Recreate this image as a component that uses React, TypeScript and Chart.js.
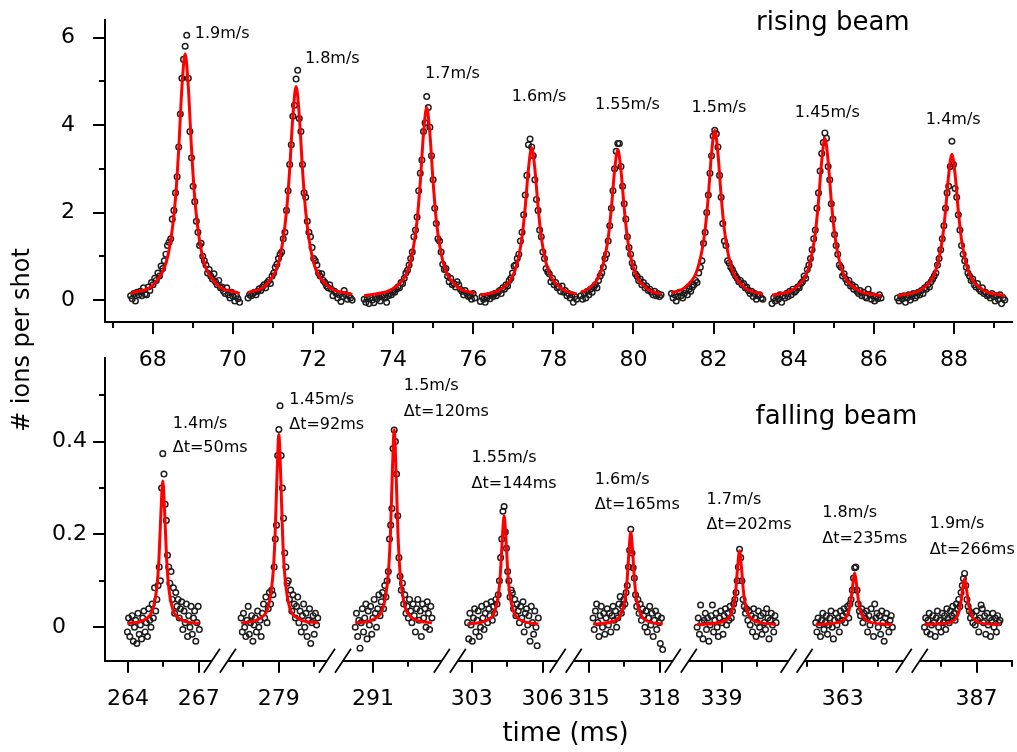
import React, { useEffect, useRef } from 'react';
import { Chart, registerables } from 'chart.js';

Chart.register(...registerables);

const W = 1017;
const H = 752;
const FAMILY = '"DejaVu Sans", "Liberation Sans", Arial, sans-serif';
const INK = '#000000';
const MARKER = '#1c1c1c';
const FIT_RED = '#ff0000';

// ---------------- rising beam (upper panel), time in ms ----------------
const risingStep = 0.04;
const risingStart = [67.45, 70.38, 73.28, 76.18, 78.69, 80.95, 83.46, 86.59];
const rise1 = [0.10,0.03,0.15,-0.02,0.18,0.12,0.20,0.10,0.28,0.14,0.12,0.30,0.22,0.40,0.35,0.50,0.45,0.62,0.55,0.78,0.72,0.90,1.05,1.25,1.32,1.40,1.85,2.05,2.45,2.82,3.50,4.25,5.07,5.50,5.80,6.05,5.07,3.85,3.25,2.60,2.25,1.80,1.55,1.25,1.30,1.00,0.90,0.80,0.62,0.70,0.55,0.48,0.60,0.42,0.35,0.45,0.28,0.30,0.20,0.15,0.28,0.12,0.05,0.18,0.08,-0.02,0.10,0.03,-0.05];
const rise2 = [0.05,0.12,0.10,0.15,0.18,0.12,0.20,0.26,0.22,0.30,0.35,0.28,0.40,0.45,0.38,0.55,0.62,0.75,0.82,0.95,1.05,1.10,1.40,1.55,2.05,2.50,3.10,3.55,4.20,4.45,5.05,5.25,4.15,3.85,3.10,2.45,2.35,1.80,1.55,1.45,1.20,0.95,0.90,0.80,0.62,0.55,0.60,0.45,0.40,0.32,0.28,0.35,0.25,0.10,0.20,0.15,0.05,0.12,-0.03,0.08,0.22,0.12,0.02,0.10,0.05,0.00];
const rise3 = [0.02,-0.05,0.05,-0.08,0.06,0.00,-0.06,0.08,0.03,0.10,-0.02,0.07,0.12,0.05,-0.05,0.10,0.15,0.12,0.20,0.18,0.25,0.30,0.28,0.40,0.38,0.50,0.62,0.68,0.80,0.95,1.10,1.45,1.60,1.90,2.50,2.90,3.20,3.85,4.05,4.65,4.40,3.95,3.30,2.75,2.10,1.75,1.40,1.35,1.10,0.82,0.70,0.72,0.55,0.42,0.50,0.35,0.38,0.30,0.42,0.35,0.25,0.20,0.12,0.22,0.15,0.08,0.10,0.02,0.15,0.05];
const rise4 = [-0.03,0.08,0.02,-0.05,0.05,0.10,0.03,0.12,0.08,0.15,0.10,0.18,0.22,0.15,0.28,0.25,0.35,0.32,0.45,0.50,0.62,0.78,0.80,0.95,1.05,1.35,1.55,1.95,2.40,2.85,3.55,3.68,3.50,3.30,2.75,2.30,2.05,1.60,1.45,1.10,0.95,0.72,0.65,0.60,0.42,0.50,0.35,0.40,0.28,0.30,0.20,0.32,0.18,0.22,0.10,0.15,0.05,0.12,-0.05,0.08,0.02];
const rise5 = [0.10,0.02,0.15,0.05,0.20,0.12,0.25,0.18,0.30,0.35,0.28,0.45,0.55,0.62,0.75,0.95,1.05,1.35,1.70,2.10,2.50,3.00,3.40,3.58,3.58,3.05,2.60,2.20,1.85,1.45,1.20,1.05,0.85,0.75,0.60,0.55,0.45,0.48,0.35,0.40,0.28,0.32,0.22,0.25,0.18,0.12,0.20,0.10,0.15,0.08,0.12];
const rise6 = [0.15,0.05,0.12,-0.02,0.08,0.18,0.10,0.05,0.15,0.22,0.12,0.25,0.20,0.30,0.35,0.45,0.40,0.62,0.75,0.90,1.30,1.55,2.00,2.40,2.90,3.30,3.75,3.88,3.80,3.50,2.85,2.35,1.75,1.35,1.25,0.90,0.85,0.75,0.70,0.62,0.55,0.50,0.42,0.45,0.35,0.38,0.28,0.30,0.22,0.15,0.20,0.08,0.15,0.02,0.10,0.12,0.05,0.02];
const rise7 = [-0.08,0.05,-0.02,0.08,0.02,0.12,-0.05,0.10,0.05,0.15,0.08,0.20,0.12,0.25,0.18,0.22,0.30,0.28,0.38,0.42,0.55,0.50,0.70,0.80,0.95,1.15,1.40,1.60,2.10,2.45,2.95,3.35,3.60,3.82,3.70,3.05,2.75,2.20,1.85,1.50,1.25,1.05,0.80,0.75,0.55,0.60,0.48,0.40,0.45,0.32,0.35,0.25,0.30,0.20,0.15,0.22,0.10,0.18,0.08,0.05,0.25,0.12,0.02,0.10,-0.02,0.08,0.03,0.12,0.05];
const rise8 = [0.05,-0.02,0.08,0.03,0.10,-0.05,0.05,0.12,0.00,0.08,0.15,0.05,0.10,0.18,0.12,0.22,0.15,0.28,0.25,0.35,0.30,0.42,0.48,0.55,0.62,0.80,0.95,1.15,1.40,1.70,2.10,2.45,2.60,3.05,3.63,3.10,2.55,2.35,1.95,1.60,1.25,1.05,0.90,0.75,0.62,0.55,0.45,0.48,0.35,0.30,0.38,0.25,0.20,0.28,0.15,0.18,0.10,0.12,0.05,0.15,0.08,-0.02,0.10,0.02,0.12,-0.08,0.05,0.00];
const risingSeries = [rise1, rise2, rise3, rise4, rise5, rise6, rise7, rise8];

// fitted curves: peak centres, end offsets and the curve read at the shared offsets
const risingCenters = [68.81, 71.58, 74.84, 77.46, 79.61, 82.03, 84.78, 87.95];
const risingFitEnds = [[-1.36, 1.36], [-1.20, 1.40], [-1.56, 1.20], [-1.28, 1.12], [-0.92, 1.08], [-1.08, 1.20], [-1.32, 1.40], [-1.36, 1.32]];
const fitOffsets = [-0.72, -0.4, -0.24, -0.16, -0.08, 0, 0.08, 0.16, 0.24, 0.4, 0.72];
const riseFit1 = [0.15,0.43,1.15,2.33,3.45,4.86,5.63,4.86,3.45,2.33,1.15,0.43,0.15];
const riseFit2 = [0.17,0.38,1.00,2.02,2.99,4.21,4.88,4.21,2.99,2.02,1.00,0.38,0.13];
const riseFit3 = [0.10,0.34,0.90,1.82,2.70,3.80,4.40,3.80,2.70,1.82,0.90,0.34,0.15];
const riseFit4 = [0.11,0.28,0.72,1.44,2.13,3.00,3.48,3.00,2.13,1.44,0.72,0.28,0.14];
const riseFit5 = [0.18,0.27,0.71,1.42,2.10,2.96,3.43,2.96,2.10,1.42,0.71,0.27,0.14];
const riseFit6 = [0.16,0.31,0.80,1.61,2.38,3.35,3.88,3.35,2.38,1.61,0.80,0.31,0.13];
const riseFit7 = [0.11,0.29,0.76,1.53,2.26,3.18,3.69,3.18,2.26,1.53,0.76,0.29,0.10];
const riseFit8 = [0.10,0.27,0.69,1.38,2.04,2.87,3.33,2.87,2.04,1.38,0.69,0.27,0.10];
const risingFits = [riseFit1, riseFit2, riseFit3, riseFit4, riseFit5, riseFit6, riseFit7, riseFit8];

const risingXMajor = [68, 70, 72, 74, 76, 78, 80, 82, 84, 86, 88];
const risingXMinor = [67, 69, 71, 73, 75, 77, 79, 81, 83, 85, 87, 89];
const risingYMajor = [0, 2, 4, 6];
const risingYMinor = [1, 3, 5];

const risingLabels = ['1.9m/s', '1.8m/s', '1.7m/s', '1.6m/s', '1.55m/s', '1.5m/s', '1.45m/s', '1.4m/s'];
const risingLabelX = [69.05, 71.80, 74.80, 76.96, 79.04, 81.45, 84.03, 87.30];
const risingLabelY = [6.09, 5.51, 5.17, 4.65, 4.46, 4.39, 4.27, 4.12];

// ---------------- falling beam (lower panel, broken time axis) ----------------
const fallingStep = 0.05;
const fallingStart = [263.98, 277.40, 290.25, 302.82, 315.18, 337.96, 361.86, 384.79];
const fall1 = [-0.01,0.02,-0.02,0.01,0.025,-0.03,0.00,0.015,-0.035,0.03,-0.015,0.005,-0.025,0.02,0.035,-0.01,0.01,-0.02,0.04,0.015,0.00,0.05,0.02,0.085,0.035,0.06,0.09,0.13,0.10,0.30,0.374,0.33,0.265,0.23,0.155,0.13,0.095,0.12,0.06,0.085,0.03,0.075,0.045,0.06,0.02,0.04,0.055,-0.005,0.035,0.01,0.05,-0.02,0.025,0.00,0.045,-0.015,0.02,0.035,-0.03,0.01,0.045,-0.005];
const fall2 = [0.02,-0.01,0.03,0.00,-0.02,0.015,0.045,-0.015,0.01,0.025,-0.03,0.005,0.02,-0.01,0.035,0.00,0.015,-0.02,0.03,0.05,0.02,0.065,0.01,0.04,0.075,0.05,0.08,0.07,0.13,0.19,0.22,0.37,0.426,0.477,0.37,0.30,0.235,0.16,0.13,0.095,0.10,0.06,0.08,0.035,0.07,0.05,0.02,0.045,0.065,0.01,0.035,-0.01,0.025,0.05,0.00,0.03,-0.02,0.015,0.04,-0.035,0.01,0.025,-0.015,0.03,0.005,0.02];
const fall3 = [0.00,0.03,-0.02,0.015,-0.045,0.01,0.04,-0.01,0.02,0.05,-0.025,0.035,0.005,0.045,-0.015,0.02,0.06,0.03,0.00,0.04,0.07,0.025,0.055,0.075,0.04,0.09,0.065,0.10,0.12,0.19,0.22,0.256,0.385,0.425,0.40,0.33,0.24,0.15,0.11,0.08,0.095,0.05,0.07,0.03,0.045,0.02,0.06,0.035,0.01,0.05,0.025,-0.01,0.04,0.06,0.015,0.035,-0.02,0.05,0.02,0.04,0.00,0.055,0.03,-0.005,0.045,0.02];
const fall4 = [0.01,-0.025,0.03,0.005,-0.03,0.02,0.04,-0.01,0.015,0.035,-0.02,0.00,0.045,0.02,-0.005,0.03,0.05,0.01,0.04,0.025,0.055,0.015,0.045,0.03,0.06,0.05,0.07,0.10,0.15,0.19,0.25,0.26,0.205,0.17,0.12,0.10,0.065,0.08,0.074,0.04,0.06,0.025,0.05,0.035,0.01,0.045,0.02,0.055,-0.01,0.03,0.04,0.005,0.025,-0.03,0.045,0.01,-0.015,0.035,0.00,-0.04,0.02];
const fall5 = [0.02,-0.005,0.035,0.05,0.01,-0.02,0.025,0.045,0.00,0.03,-0.015,0.02,0.04,0.005,0.03,-0.01,0.025,0.045,0.015,0.035,0.00,0.02,0.05,0.066,0.03,0.045,0.06,0.05,0.075,0.09,0.13,0.166,0.211,0.16,0.128,0.106,0.07,0.045,0.06,0.03,0.05,0.015,0.04,0.025,0.00,0.035,-0.01,0.02,0.045,0.005,0.03,-0.02,0.015,0.035,-0.005,0.025,0.01,-0.035,0.02,-0.048];
const fall6 = [0.00,0.02,-0.015,0.048,0.01,-0.025,0.015,0.03,-0.005,0.02,-0.03,0.005,0.025,0.048,-0.01,0.015,0.03,0.00,-0.02,0.02,0.035,0.01,-0.015,0.025,0.04,0.005,0.03,0.015,0.045,0.02,0.035,0.05,0.06,0.075,0.10,0.13,0.168,0.15,0.10,0.06,0.045,0.03,0.04,0.015,0.035,0.005,0.025,-0.01,0.04,0.02,-0.02,0.01,0.035,0.00,0.025,-0.015,0.03,0.01,-0.005,0.04,0.02,-0.025,0.015,0.03,0.005,-0.01,0.025,0.01];
const fall7 = [0.01,-0.01,0.02,0.005,-0.02,0.015,0.03,-0.005,0.01,0.025,-0.015,0.005,0.02,0.035,0.00,-0.025,0.015,0.03,0.005,0.02,-0.01,0.035,0.015,0.025,0.04,0.01,0.03,0.045,0.02,0.05,0.06,0.08,0.106,0.128,0.13,0.08,0.05,0.035,0.025,0.04,0.01,0.03,0.02,0.035,-0.01,0.025,0.005,0.04,0.015,-0.02,0.05,0.02,0.03,0.00,0.025,-0.015,0.035,0.01,-0.03,0.02,0.03,0.005,-0.01,0.015,0.025,0.00];
const fall8 = [0.00,0.02,-0.01,0.015,0.03,-0.015,0.005,0.025,0.01,-0.02,0.02,0.035,0.00,0.015,-0.01,0.03,0.01,0.025,-0.005,0.04,0.02,0.01,0.035,0.025,0.045,0.03,0.015,0.05,0.04,0.06,0.045,0.075,0.09,0.105,0.116,0.09,0.06,0.045,0.035,0.02,0.03,0.01,0.025,0.005,0.035,0.015,-0.01,0.02,0.048,0.04,0.01,0.025,-0.015,0.03,0.005,0.02,-0.02,0.015,0.03,0.00,0.02,-0.01,0.025,0.01,0.015];
const fallingSeries = [fall1, fall2, fall3, fall4, fall5, fall6, fall7, fall8];

const fallingCenters = [265.48, 279.0, 291.9, 304.37, 316.78, 339.76, 363.51, 386.49];
const fallingFitEnds = [[-1.50, 1.55], [-1.60, 1.65], [-1.65, 1.60], [-1.55, 1.45], [-1.60, 1.35], [-1.80, 1.55], [-1.65, 1.60], [-1.70, 1.50]];
const fallFit1 = [0.008,0.018,0.043,0.092,0.150,0.246,0.315,0.246,0.150,0.092,0.043,0.018,0.008];
const fallFit2 = [0.009,0.022,0.055,0.120,0.197,0.324,0.415,0.324,0.197,0.120,0.055,0.022,0.009];
const fallFit3 = [0.009,0.022,0.057,0.123,0.201,0.332,0.425,0.332,0.201,0.123,0.057,0.022,0.009];
const fallFit4 = [0.007,0.015,0.034,0.071,0.115,0.188,0.240,0.188,0.115,0.071,0.034,0.015,0.007];
const fallFit5 = [0.007,0.013,0.030,0.061,0.099,0.161,0.205,0.161,0.099,0.061,0.030,0.013,0.007];
const fallFit6 = [0.006,0.012,0.025,0.050,0.080,0.130,0.165,0.130,0.080,0.050,0.025,0.012,0.006];
const fallFit7 = [0.006,0.010,0.019,0.036,0.057,0.092,0.117,0.092,0.057,0.036,0.019,0.010,0.006];
const fallFit8 = [0.006,0.009,0.017,0.033,0.052,0.083,0.105,0.083,0.052,0.033,0.017,0.009,0.006];
const fallingFits = [fallFit1, fallFit2, fallFit3, fallFit4, fallFit5, fallFit6, fallFit7, fallFit8];

// broken axis: each piece shows [segStart, segEnd] ms, placed at segVirt on a continuous scale
const fallingSegStart = [263.03, 277.05, 290.11, 302.79, 314.70, 337.94, 361.40, 384.92];
const fallingSegEnd = [267.35, 280.74, 293.54, 306.31, 318.22, 341.46, 365.29, 388.55];
const fallingSegVirt = [0, 5.42, 10.47, 15.34, 20.21, 25.08, 29.67, 34.87];
const fallingBreaks = [4.87, 9.75, 14.62, 19.53, 24.41, 29.32, 34.2];
const fallingXMajor = [264, 267, 279, 291, 303, 306, 315, 318, 339, 363, 387];
const fallingXMinor = [265.5, 277.5, 280.5, 292.5, 304.5, 316.5, 340.5, 361.5, 364.5, 385.5, 388.5];
const fallingYMajor = [0, 0.2, 0.4];
const fallingYMinor = [0.1, 0.3, 0.5];

const fallingSpeeds = ['1.4m/s', '1.45m/s', '1.5m/s', '1.55m/s', '1.6m/s', '1.7m/s', '1.8m/s', '1.9m/s'];
const fallingDelays = ['Δt=50ms', 'Δt=92ms', 'Δt=120ms', 'Δt=144ms', 'Δt=165ms', 'Δt=202ms', 'Δt=235ms', 'Δt=266ms'];
const fallingLabelX = [265.90, 279.44, 292.31, 302.99, 315.25, 338.36, 362.14, 385.01];
const fallingSpeedY = [0.439, 0.490, 0.519, 0.364, 0.317, 0.274, 0.246, 0.223];
const fallingDelayY = [0.386, 0.436, 0.464, 0.308, 0.264, 0.220, 0.191, 0.167];

// ---------------- helpers ----------------
function segmentOf(real: number): number {
  for (let i = 0; i < fallingSegStart.length; i++) {
    if (real >= fallingSegStart[i] - 0.6 && real <= fallingSegEnd[i] + 0.6) return i;
  }
  return 0;
}
function toVirt(real: number, seg?: number): number {
  const s = seg === undefined ? segmentOf(real) : seg;
  return real - fallingSegStart[s] + fallingSegVirt[s];
}

function drawText(ctx: CanvasRenderingContext2D, str: string, x: number, y: number, size: number, align: CanvasTextAlign = 'left') {
  ctx.save();
  ctx.font = `${size}px ${FAMILY}`;
  ctx.fillStyle = INK;
  ctx.textAlign = align;
  ctx.textBaseline = 'middle';
  ctx.fillText(str, x, y);
  ctx.restore();
}

function drawTicks(chart: any, xMajor: number[], xMinor: number[], yMajor: number[], yMinor: number[], mapX: (v: number) => number) {
  const ctx = chart.ctx as CanvasRenderingContext2D;
  const a = chart.chartArea;
  const xs = chart.scales.x;
  const ys = chart.scales.y;
  ctx.save();
  ctx.strokeStyle = INK;
  ctx.lineWidth = 2;
  const xt = (v: number, len: number) => {
    const p = Math.round(xs.getPixelForValue(mapX(v)));
    ctx.beginPath();
    ctx.moveTo(p, a.bottom);
    ctx.lineTo(p, a.bottom + len);
    ctx.stroke();
  };
  const yt = (v: number, len: number) => {
    const p = Math.round(ys.getPixelForValue(v));
    ctx.beginPath();
    ctx.moveTo(a.left, p);
    ctx.lineTo(a.left - len, p);
    ctx.stroke();
  };
  xMajor.forEach((v) => xt(v, 12));
  xMinor.forEach((v) => xt(v, 6));
  yMajor.forEach((v) => yt(v, 12));
  yMinor.forEach((v) => yt(v, 6));
  ctx.restore();
}

const pointStyle = {
  showLine: false,
  pointRadius: 2.8,
  pointBorderWidth: 1.45,
  pointBorderColor: MARKER,
  pointBackgroundColor: 'rgba(255,255,255,0)',
  order: 2,
};
const fitStyle = {
  type: 'line' as const,
  showLine: true,
  pointRadius: 0,
  borderColor: FIT_RED,
  borderWidth: 3,
  cubicInterpolationMode: 'monotone' as const,
  fill: false,
  order: 1,
};

function axisBase(size: number) {
  return {
    type: 'linear' as const,
    grid: { display: false },
    border: { display: true, color: INK, width: 2 },
    ticks: { font: { family: FAMILY, size }, color: INK, autoSkip: false, maxRotation: 0 },
  };
}

function topConfig(): any {
  const datasets: any[] = [];
  risingSeries.forEach((ys, i) => {
    datasets.push({ ...pointStyle, data: ys.map((y, k) => ({ x: risingStart[i] + k * risingStep, y })) });
  });
  risingFits.forEach((ys, i) => {
    const dx = [risingFitEnds[i][0], ...fitOffsets, risingFitEnds[i][1]];
    datasets.push({ ...fitStyle, data: dx.map((d, j) => ({ x: risingCenters[i] + d, y: ys[j] })) });
  });
  const base = axisBase(22);
  return {
    type: 'scatter',
    data: { datasets },
    options: {
      responsive: false,
      animation: false,
      devicePixelRatio: 1,
      events: [],
      layout: { padding: { left: 0, right: 5, top: 20, bottom: 370 }, autoPadding: false },
      plugins: { legend: { display: false }, tooltip: { enabled: false } },
      scales: {
        x: {
          ...base, min: 66.81, max: 89.45,
          ticks: { ...base.ticks, padding: 17, callback: (v: number) => String(v) },
          afterBuildTicks: (s: any) => { s.ticks = risingXMajor.map((v) => ({ value: v })); },
          afterFit: (s: any) => { s.height = 60; s.paddingLeft = 0; s.paddingRight = 0; },
        },
        y: {
          ...base, min: -0.5, max: 6.4,
          ticks: { ...base.ticks, padding: 22, callback: (v: number) => String(v) },
          afterBuildTicks: (s: any) => { s.ticks = risingYMajor.map((v) => ({ value: v })); },
          afterFit: (s: any) => { s.width = 105; s.paddingTop = 0; s.paddingBottom = 0; },
        },
      },
    },
    plugins: [{
      id: 'risingDecor',
      afterDraw(chart: any) {
        const ctx = chart.ctx;
        const xs = chart.scales.x;
        const ys = chart.scales.y;
        drawTicks(chart, risingXMajor, risingXMinor, risingYMajor, risingYMinor, (v) => v);
        risingLabels.forEach((t, i) => {
          drawText(ctx, t, xs.getPixelForValue(risingLabelX[i]), ys.getPixelForValue(risingLabelY[i]), 16);
        });
        drawText(ctx, 'rising beam', xs.getPixelForValue(83.06), ys.getPixelForValue(6.32), 26);
      },
    }],
  };
}

function bottomConfig(): any {
  const datasets: any[] = [];
  fallingSeries.forEach((ys, i) => {
    datasets.push({ ...pointStyle, data: ys.map((y, k) => ({ x: toVirt(fallingStart[i] + k * fallingStep, i), y })) });
  });
  fallingFits.forEach((ys, i) => {
    const dx = [fallingFitEnds[i][0], ...fitOffsets, fallingFitEnds[i][1]];
    datasets.push({ ...fitStyle, data: dx.map((d, j) => ({ x: toVirt(fallingCenters[i] + d, i), y: ys[j] })) });
  });
  const base = axisBase(22);
  return {
    type: 'scatter',
    data: { datasets },
    options: {
      responsive: false,
      animation: false,
      devicePixelRatio: 1,
      events: [],
      layout: { padding: { left: 52, right: 5, top: 358, bottom: 31.3 }, autoPadding: false },
      plugins: { legend: { display: false }, tooltip: { enabled: false } },
      scales: {
        x: {
          ...base, min: 0, max: 38.45,
          ticks: { ...base.ticks, padding: 17, callback: (_v: number, idx: number) => String(fallingXMajor[idx]) },
          afterBuildTicks: (s: any) => { s.ticks = fallingXMajor.map((v) => ({ value: toVirt(v) })); },
          afterFit: (s: any) => { s.height = 60; s.paddingLeft = 0; s.paddingRight = 0; },
        },
        y: {
          ...base, min: -0.072, max: 0.58,
          ticks: { ...base.ticks, size: 23, padding: 0, crossAlign: 'far', callback: (v: number) => String(v) },
          afterBuildTicks: (s: any) => { s.ticks = fallingYMajor.map((v) => ({ value: v })); },
          afterFit: (s: any) => { s.width = 53; s.paddingTop = 0; s.paddingBottom = 0; },
        },
      },
    },
    plugins: [{
      id: 'fallingDecor',
      afterDraw(chart: any) {
        const ctx = chart.ctx as CanvasRenderingContext2D;
        const a = chart.chartArea;
        const xs = chart.scales.x;
        const ys = chart.scales.y;
        drawTicks(chart, fallingXMajor, fallingXMinor, fallingYMajor, fallingYMinor, (v) => toVirt(v));
        // axis breaks
        fallingBreaks.forEach((v) => {
          const p = xs.getPixelForValue(v);
          ctx.save();
          ctx.fillStyle = '#ffffff';
          ctx.fillRect(p - 8, a.bottom - 3, 16, 6);
          ctx.strokeStyle = INK;
          ctx.lineWidth = 1.7;
          ctx.beginPath();
          ctx.moveTo(p - 16, a.bottom + 12);
          ctx.lineTo(p, a.bottom - 12);
          ctx.moveTo(p, a.bottom + 12);
          ctx.lineTo(p + 16, a.bottom - 12);
          ctx.stroke();
          ctx.restore();
        });
        fallingSpeeds.forEach((t, i) => {
          const px = xs.getPixelForValue(toVirt(fallingLabelX[i], i));
          drawText(ctx, t, px, ys.getPixelForValue(fallingSpeedY[i]), 16);
          drawText(ctx, fallingDelays[i], px, ys.getPixelForValue(fallingDelayY[i]), 16);
        });
        drawText(ctx, 'falling beam', xs.getPixelForValue(toVirt(340.44, 5)), ys.getPixelForValue(0.452), 26);
        // axis titles
        drawText(ctx, 'time (ms)', 565.5, 734, 26, 'center');
        ctx.save();
        ctx.translate(22.5, 340);
        ctx.rotate(-Math.PI / 2);
        drawText(ctx, '# ions per shot', 0, 0, 24, 'center');
        ctx.restore();
      },
    }],
  };
}

export default function App() {
  const topRef = useRef<HTMLCanvasElement>(null);
  const botRef = useRef<HTMLCanvasElement>(null);
  useEffect(() => {
    const c1 = new Chart(topRef.current as HTMLCanvasElement, topConfig());
    const c2 = new Chart(botRef.current as HTMLCanvasElement, bottomConfig());
    return () => {
      c1.destroy();
      c2.destroy();
    };
  }, []);
  return (
    <div style={{ position: 'absolute', left: 0, top: 0, width: W, height: H, background: '#ffffff' }}>
      <canvas ref={topRef} width={W} height={H} style={{ position: 'absolute', left: 0, top: 0 }} />
      <canvas ref={botRef} width={W} height={H} style={{ position: 'absolute', left: 0, top: 0 }} />
    </div>
  );
}
